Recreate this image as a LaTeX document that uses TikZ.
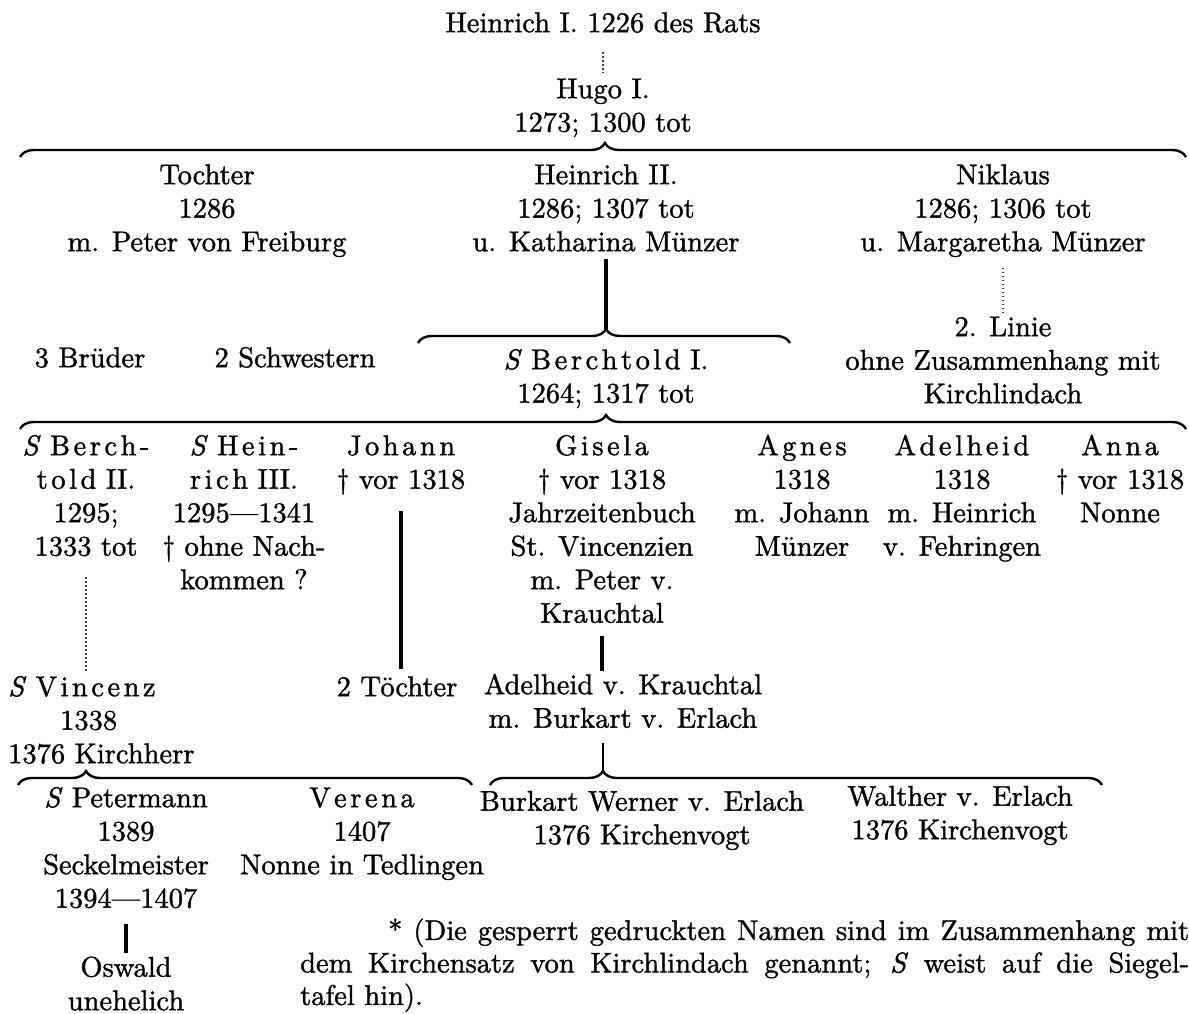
\documentclass[tikz,border=0pt]{standalone}
\usepackage{fontspec}
\setmainfont{lmroman10-regular}[Extension=.otf, ItalicFont=lmroman10-italic, RawFeature={embolden=1.2}]
\usetikzlibrary{decorations.pathreplacing}
\makeatletter
\def\spc#1{\spc@#1\@nil}
\def\spc@#1#2{#1\ifx\@nil#2\expandafter\@gobble\else\kern3.5pt\expandafter\@firstofone\fi{\spc@#2}}
\makeatother
\newcommand\Sig{\textit{S}}
\tikzset{
  lbl/.style={align=center, inner sep=0pt, anchor=north, font=\fontsize{28.5}{33.5}\selectfont},
  brc/.style={decorate, decoration={brace, amplitude=14pt, aspect=#1}, line width=2.4pt},
  thk/.style={line width=3.6pt},
  thn/.style={line width=1.8pt},
  dots/.style={line width=1.1pt, dash pattern=on 1.2pt off 2.8pt, black!75},
}
\begin{document}
\begin{tikzpicture}[x=1pt,y=-1pt]
\path[use as bounding box, fill=white] (0,0) rectangle (1189,1014);

% generation 1
\node[lbl] (heinrichI) at (603,8.5) {\strut Heinrich I. 1226 des Rats};
\node[lbl] (hugo) at (603,74.5) {\strut Hugo I.\\1273; 1300 tot};

% generation 2
\node[lbl] (tochter) at (207,160.5) {\strut Tochter\\1286\\m. Peter von Freiburg};
\node[lbl] (heinrichII) at (606,160.5) {\strut Heinrich II.\\1286; 1307 tot\\u. Katharina Münzer};
\node[lbl] (niklaus) at (1003,160.5) {\strut Niklaus\\1286; 1306 tot\\u. Margaretha Münzer};

% generation 3
\node[lbl] (brueder) at (90,343.5) {\strut 3 Brüder};
\node[lbl] (schwestern) at (295,343.5) {\strut 2 Schwestern};
\node[lbl] (berchtoldI) at (606,345.5) {\strut\Sig\ \spc{Berchtold} I.\\1264; 1317 tot};
\node[lbl] (linie) at (1003,312.5) {\strut 2. Linie\\ohne Zusammenhang mit\\Kirchlindach};

% generation 4
\node[lbl] (berchtoldII) at (86,431.5) {\strut\Sig\ \spc{Berch-}\\\spc{told} II.\\1295;\\1333 tot};
\node[lbl] (heinrichIII) at (244,431.5) {\strut\Sig\ \spc{Hein-}\\\spc{rich} III.\\1295—1341\\\dag\ ohne Nach-\\kommen ?};
\node[lbl] (johann) at (401,431.5) {\strut\spc{Johann}\\\dag\ vor 1318};
\node[lbl] (gisela) at (602,431.5) {\strut\spc{Gisela}\\\dag\ vor 1318\\Jahrzeitenbuch\\St. Vincenzien\\m. Peter v.\\Krauchtal};
\node[lbl] (agnes) at (802,431.5) {\strut\spc{Agnes}\\1318\\m. Johann\\Münzer};
\node[lbl] (adelheid) at (962,431.5) {\strut\spc{Adelheid}\\1318\\m. Heinrich\\v. Fehringen};
\node[lbl] (anna) at (1120,431.5) {\strut\spc{Anna}\\\dag\ vor 1318\\Nonne};

% generation 5
\node[lbl, anchor=north west, align=left] (vincenz) at (8,672.5) {\strut\Sig\ \spc{Vincenz}\\\hspace*{52pt}1338\\1376 Kirchherr};
\node[lbl] (toechter) at (397,672.5) {\strut 2 Töchter};
\node[lbl] (adelheidK) at (623,670.5) {\strut Adelheid v. Krauchtal\\m. Burkart v. Erlach};

% generation 6
\node[lbl] (petermann) at (126,783.5) {\strut\Sig\ Petermann\\1389\\Seckelmeister\\1394—1407};
\node[lbl] (verena) at (362,783.5) {\strut\spc{Verena}\\1407\\Nonne in Tedlingen};
\node[lbl] (burkart) at (642,787) {\strut Burkart Werner v. Erlach\\1376 Kirchenvogt};
\node[lbl] (walther) at (960,782) {\strut Walther v. Erlach\\1376 Kirchenvogt};
\node[lbl] (oswald) at (126,953) {\strut Oswald\\unehelich};

% footnote
\node[lbl, anchor=north west, align=justify, text width=889pt, font=\fontsize{28.5}{32.5}\selectfont] (note) at (300,917)
  {\noindent\strut\hspace*{88pt}* (Die gesperrt gedruckten Namen sind im Zusammenhang mit\linebreak
   dem Kirchensatz von Kirchlindach genannt; \Sig\ weist auf die Siegel-\linebreak
   tafel hin).};

% braces
\coordinate (b1l) at (20,157);  \coordinate (b1r) at (1186,157);
\coordinate (b2l) at (418,343); \coordinate (b2r) at (790,343); \coordinate (b2tip) at (606,329);
\coordinate (b3l) at (20,429);  \coordinate (b3r) at (1186,429);
\coordinate (b4l) at (18,785);  \coordinate (b4r) at (472,785);
\coordinate (b5l) at (490,785); \coordinate (b5r) at (1102,785); \coordinate (b5tip) at (603,771);
\draw[brc=0.5017] (b1l) -- (b1r);
\draw[brc=0.5054] (b2l) -- (b2r);
\draw[brc=0.5026] (b3l) -- (b3r);
\draw[brc=0.1498] (b4l) -- (b4r);
\draw[brc=0.1846] (b5l) -- (b5r);

% connectors
\draw[dots, shorten <=10pt, shorten >=1.5pt] (heinrichI.south) -- (hugo.north);
\draw[thk, shorten <=7pt] (heinrichII.south) -- (b2tip);
\draw[dots, shorten <=11pt] (niklaus.south) -- (linie.north);
\draw[dots, shorten <=21pt] (berchtoldII.south) -- (berchtoldII.south |- vincenz.north);
\draw[thk, shorten <=16pt, shorten >=4pt] (johann.south) -- (johann.south |- toechter.north);
\draw[thk, shorten <=12.5pt] (gisela.south) -- (gisela.south |- adelheidK.north);
\draw[thn, shorten <=14.5pt] (b5tip |- adelheidK.south) -- (b5tip);
\draw[thk, shorten <=16pt] (petermann.south) -- (oswald.north);
\end{tikzpicture}
\end{document}
